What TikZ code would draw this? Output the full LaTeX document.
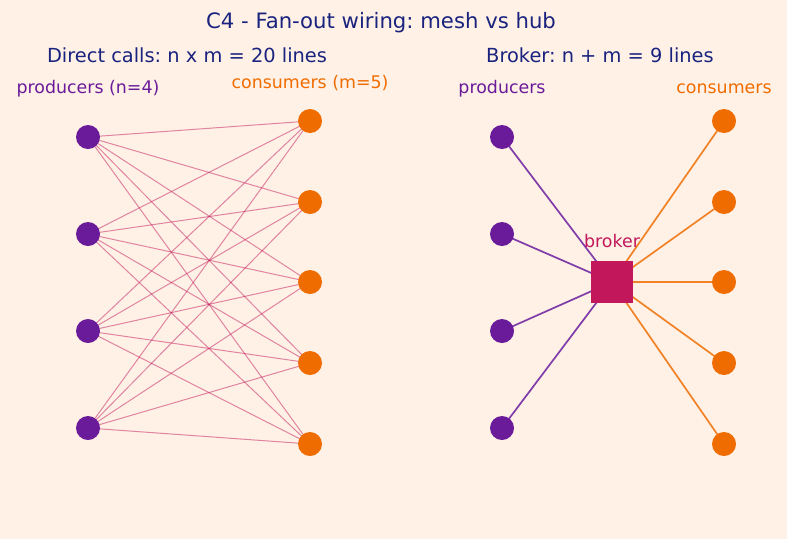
\documentclass[tikz,border=0pt]{standalone}
\usepackage{fontspec}
\setmainfont{DejaVu Sans}
\frenchspacing
\definecolor{bg}{HTML}{FFF1E6}
\definecolor{navy}{HTML}{1A237E}
\definecolor{purp}{HTML}{6A1B9A}
\definecolor{orng}{HTML}{EF6C00}
\definecolor{brk}{HTML}{C2185B}
\begin{document}
\frenchspacing
\begin{tikzpicture}[x=1pt,y=-1pt,
  prod/.style={circle,fill=purp,minimum size=24pt,inner sep=0pt},
  cons/.style={circle,fill=orng,minimum size=24pt,inner sep=0pt},
  meshline/.style={draw=brk,opacity=0.5,line width=1pt},
  hubp/.style={draw=purp!85!white,line width=1.7pt},
  hubc/.style={draw=orng!85!white,line width=1.7pt},
  title/.style={text=navy,font=\fontsize{21.2}{25}\selectfont},
  sub/.style={text=navy,font=\fontsize{19.4}{23}\selectfont},
  lab/.style={font=\fontsize{17.4}{21}\selectfont}]
\fill[bg] (0,0) rectangle (787,539);
\useasboundingbox (0,0) rectangle (787,539);
\node[title] (t) at (381,23) {C4 - Fan-out wiring: mesh vs hub};
\node[sub] (s1) at (187,55) {Direct calls: n x m = 20 lines};
\node[sub] (s2) at (600,55) {Broker: n + m = 9 lines};
\node[lab,text=purp] (lp1) at (88,89) {producers (n=4)};
\node[lab,text=orng] (lc1) at (310,83) {consumers (m=5)};
\node[lab,text=purp] (lp2) at (502,89) {producers};
\node[lab,text=orng] (lc2) at (724,89) {consumers};
% coordinates
\foreach \i/\y in {1/137,2/234,3/331,4/428}{
  \coordinate (P\i) at (88,\y);
  \coordinate (Q\i) at (502,\y);
}
\foreach \j/\y in {1/121,2/202,3/282,4/363,5/444}{
  \coordinate (C\j) at (310,\y);
  \coordinate (D\j) at (724,\y);
}
\coordinate (B) at (612,282);
% mesh
\foreach \i in {1,...,4}{
  \foreach \j in {1,...,5}{
    \draw[meshline] (P\i) -- (C\j);
  }
}
% hub
\foreach \i in {1,...,4}{\draw[hubp] (Q\i) -- (B);}
\foreach \j in {1,...,5}{\draw[hubc] (B) -- (D\j);}
% nodes
\foreach \i in {1,...,4}{
  \node[prod] (p\i) at (P\i) {};
  \node[prod] (q\i) at (Q\i) {};
}
\foreach \j in {1,...,5}{
  \node[cons] (c\j) at (C\j) {};
  \node[cons] (d\j) at (D\j) {};
}
\node[fill=brk,minimum size=42pt,inner sep=0pt] (broker) at (B) {};
\node[lab,text=brk] (bl) at (612,241) {broker};
\end{tikzpicture}
\end{document}
